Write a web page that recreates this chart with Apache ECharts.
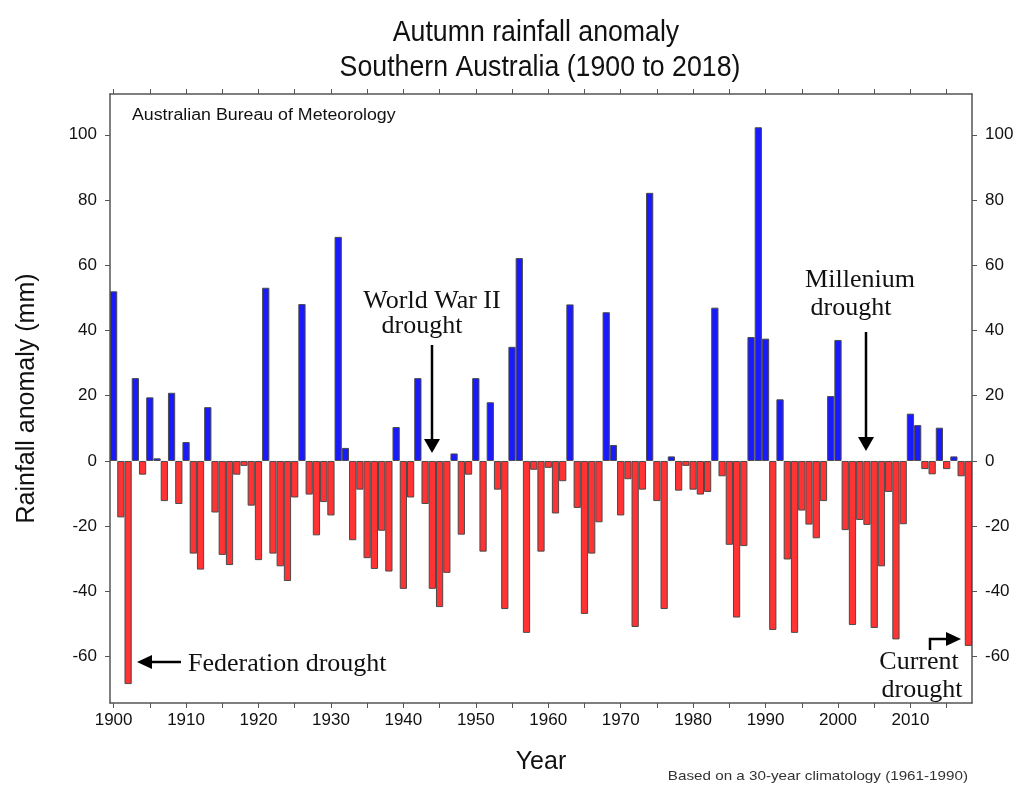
<!DOCTYPE html>
<html><head><meta charset="utf-8">
<script src="https://cdn.jsdelivr.net/npm/echarts@6/dist/echarts.min.js"></script>
<style>html,body{margin:0;padding:0;background:#fff}#c{width:1031px;height:785px}</style>
</head><body><div id="c"></div>
<script>
const startYear = 1900;
const endYear = 2018;
const anomalies = [
 52.0,-17.3,-68.4,25.4,-4.2,19.5,0.8,-12.3,20.9,-13.2,
 5.8,-28.4,-33.3,16.5,-15.8,-28.8,-31.9,-4.2,-1.5,-13.7,
 -30.4,53.1,-28.4,-32.3,-36.8,-11.2,48.1,-10.3,-22.8,-12.6,
 -16.7,68.7,4.0,-24.3,-8.8,-29.8,-33.1,-21.4,-33.9,10.4,
 -39.2,-11.2,25.4,-13.2,-39.2,-44.8,-34.3,2.3,-22.6,-4.2,
 25.4,-27.8,18.0,-8.8,-45.4,35.0,62.2,-52.7,-2.7,-27.8,
 -2.1,-16.1,-6.2,48.0,-14.4,-46.9,-28.4,-18.8,45.6,4.9,
 -16.7,-5.6,-50.9,-8.8,82.2,-12.3,-45.4,1.4,-9.1,-1.5,
 -8.8,-10.3,-9.5,47.0,-4.7,-25.7,-48.0,-26.1,38.0,102.3,
 37.5,-51.8,18.9,-30.2,-52.7,-15.2,-19.5,-23.7,-12.3,19.9,
 37.1,-21.2,-50.3,-18.1,-19.6,-51.2,-32.3,-9.5,-54.7,-19.4,
 14.5,11.0,-2.5,-4.1,10.2,-2.5,1.4,-4.7,-56.7
];
const yTickValues = [-60,-40,-20,0,20,40,60,80,100];
const yMin = -74.2, yMax = 112.5;

const years = [];
for (let y = startYear; y <= endYear; y++) years.push(String(y));

const chart = echarts.init(document.getElementById('c'), null, {renderer:'canvas'});
const sans = 'Liberation Sans, Arial, sans-serif';
const serif = 'Liberation Serif, Times New Roman, serif';
const frameColor = '#555';

function xAxisCfg(pos, showLabel) {
  return {
    type:'category', data: years, position: pos, boundaryGap: true,
    axisLine:{show:true, onZero:false, lineStyle:{color:frameColor, width:1.5}},
    axisTick:{show:true, alignWithLabel:true, length:5, lineStyle:{color:frameColor},
      interval:(i,v)=>Number(v)%5===0},
    axisLabel:{show:showLabel, interval:(i,v)=>Number(v)%10===0, fontFamily:sans, fontSize:17, color:'#111', margin:9},
    splitLine:{show:false},
    name: showLabel ? 'Year' : '', nameLocation:'middle', nameGap:47,
    nameTextStyle:{fontFamily:sans, fontSize:25, color:'#111'}
  };
}
function yAxisCfg(pos, name) {
  return {
    type:'value', position: pos, min:yMin, max:yMax,
    axisLine:{show:true, onZero:false, lineStyle:{color:frameColor, width:1.5}},
    axisTick:{show:true, length:5, customValues:yTickValues, lineStyle:{color:frameColor}},
    axisLabel:{show:true, customValues:yTickValues, fontFamily:sans, fontSize:17, color:'#111', margin:13},
    splitLine:{show:false},
    name: name, nameLocation:'middle', nameGap:70, nameRotate:90,
    nameTextStyle:{fontFamily:sans, fontSize:25, color:'#111'}
  };
}
function label(x, y, text, font, align, sx, color) {
  const el = {type:'text', x:x, y:y, style:{text:text, font:font, fill:color || '#111', textAlign:align, textVerticalAlign:'middle'}};
  if (sx) el.scaleX = sx;
  return el;
}

const option = {
  backgroundColor:'#fff',
  animation:false,
  grid:{left:110, right:59, top:94, bottom:82, containLabel:false},
  xAxis:[xAxisCfg('bottom', true), xAxisCfg('top', false)],
  yAxis:[yAxisCfg('left','Rainfall anomaly (mm)'), yAxisCfg('right','')],
  series:[{
    type:'bar', xAxisIndex:0, yAxisIndex:0,
    data: anomalies,
    barWidth:'100%', barCategoryGap:'0%', barGap:'0%',
    itemStyle:{
      color:(p)=> p.value >= 0 ? '#1a1aff' : '#ff3333',
      borderColor:'#4a4a4a', borderWidth:1
    }
  }],
  graphic:[
    label(536, 33, 'Autumn rainfall anomaly', '30px '+sans, 'center', 0.89),
    label(540, 68, 'Southern Australia (1900 to 2018)', '30px '+sans, 'center', 0.89),
    label(132, 116, 'Australian Bureau of Meteorology', '16px '+sans, 'left', 1.11),
    label(968, 776, 'Based on a 30-year climatology (1961-1990)', '13px '+sans, 'right', 1.17, '#333'),
    label(432, 301, 'World War II', '26px '+serif, 'center'),
    label(422, 326, 'drought', '26px '+serif, 'center'),
    label(860, 280, 'Millenium', '26px '+serif, 'center'),
    label(851, 308, 'drought', '26px '+serif, 'center'),
    label(188, 664, 'Federation drought', '26px '+serif, 'left'),
    label(919, 662, 'Current', '26px '+serif, 'center'),
    label(922, 690, 'drought', '26px '+serif, 'center'),
    {type:'line', shape:{x1:432, y1:345, x2:432, y2:440}, style:{stroke:'#000', lineWidth:2.5}},
    {type:'polygon', shape:{points:[[424,439],[440,439],[432,453]]}, style:{fill:'#000'}},
    {type:'line', shape:{x1:866, y1:332, x2:866, y2:438}, style:{stroke:'#000', lineWidth:2.5}},
    {type:'polygon', shape:{points:[[858,437],[874,437],[866,451]]}, style:{fill:'#000'}},
    {type:'line', shape:{x1:151, y1:662, x2:181, y2:662}, style:{stroke:'#000', lineWidth:2.5}},
    {type:'polygon', shape:{points:[[137,662],[152,655],[152,669]]}, style:{fill:'#000'}},
    {type:'polyline', shape:{points:[[930,650],[930,639],[947,639]]}, style:{stroke:'#000', lineWidth:2.5, fill:null}},
    {type:'polygon', shape:{points:[[946,632],[946,646],[961,639]]}, style:{fill:'#000'}}
  ]
};
chart.setOption(option);
</script></body></html>
